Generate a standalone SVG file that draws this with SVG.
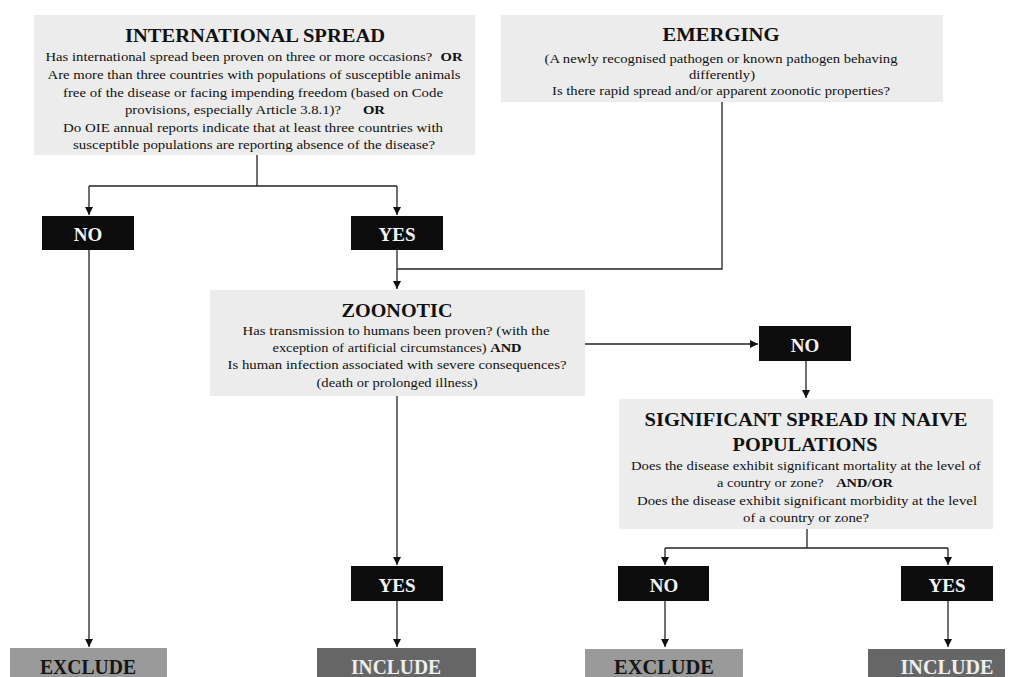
<svg xmlns="http://www.w3.org/2000/svg" width="1013" height="677" viewBox="0 0 1013 677">
<style>
.box{fill:#ececec}
.lbl{fill:#0c0c0c}
.exc{fill:#9a9a9a}
.inc{fill:#666666}
text{font-family:"Liberation Serif","Times New Roman",serif;text-anchor:middle}
.t{font-size:19px;font-weight:bold;fill:#111}
.b{font-size:13px;fill:#111}
.bb{font-weight:bold}
.lt{font-size:19px;font-weight:bold;fill:#f4f4f4}
.et{font-size:21px;font-weight:bold;fill:#151515}
.it{font-size:21px;font-weight:bold;fill:#eeeeee}
.c{fill:none;stroke:#222;stroke-width:1.3}
</style>
<defs>
<marker id="ah" markerUnits="userSpaceOnUse" markerWidth="9" markerHeight="9" refX="8" refY="4" orient="auto">
<path d="M0,0 L8,4 L0,8 z" fill="#111"/>
</marker>
</defs>
<rect width="1013" height="677" fill="#ffffff"/>

<g id="connectors">
<path class="c" d="M257,155 V186"/>
<path class="c" d="M89,186 H397"/>
<path class="c" d="M89,186 V215" marker-end="url(#ah)"/>
<path class="c" d="M397,186 V215" marker-end="url(#ah)"/>
<path class="c" d="M89,250 V647" marker-end="url(#ah)"/>
<path class="c" d="M397,250 V289" marker-end="url(#ah)"/>
<path class="c" d="M722,102 V269 H397"/>
<path class="c" d="M585,344 H758" marker-end="url(#ah)"/>
<path class="c" d="M806,361 V398" marker-end="url(#ah)"/>
<path class="c" d="M397,396 V565" marker-end="url(#ah)"/>
<path class="c" d="M397,601 V647" marker-end="url(#ah)"/>
<path class="c" d="M807,529 V548"/>
<path class="c" d="M665,548 H948"/>
<path class="c" d="M665,548 V565" marker-end="url(#ah)"/>
<path class="c" d="M948,548 V565" marker-end="url(#ah)"/>
<path class="c" d="M665,601 V647" marker-end="url(#ah)"/>
<path class="c" d="M948,601 V647" marker-end="url(#ah)"/>
</g>

<g id="international">
<rect class="box" x="34" y="15" width="441" height="140"/>
<text class="t" x="255" y="42" textLength="260" lengthAdjust="spacingAndGlyphs">INTERNATIONAL SPREAD</text>
<text class="b" x="254" y="61" textLength="417" lengthAdjust="spacingAndGlyphs">Has international spread been proven on three or more occasions? <tspan class="bb" dx="4">OR</tspan></text>
<text class="b" x="254" y="79" textLength="413" lengthAdjust="spacingAndGlyphs">Are more than three countries with populations of susceptible animals</text>
<text class="b" x="253" y="97" textLength="380" lengthAdjust="spacingAndGlyphs">free of the disease or facing impending freedom (based on Code</text>
<text class="b" x="255" y="114" textLength="260" lengthAdjust="spacingAndGlyphs">provisions, especially Article 3.8.1)? <tspan class="bb" dx="16">OR</tspan></text>
<text class="b" x="253" y="132" textLength="380" lengthAdjust="spacingAndGlyphs">Do OIE annual reports indicate that at least three countries with</text>
<text class="b" x="254" y="149" textLength="362" lengthAdjust="spacingAndGlyphs">susceptible populations are reporting absence of the disease?</text>
</g>

<g id="emerging">
<rect class="box" x="501" y="15" width="442" height="87"/>
<text class="t" x="721" y="41" textLength="117" lengthAdjust="spacingAndGlyphs">EMERGING</text>
<text class="b" x="721" y="63" textLength="353" lengthAdjust="spacingAndGlyphs">(A newly recognised pathogen or known pathogen behaving</text>
<text class="b" x="722" y="79" textLength="66" lengthAdjust="spacingAndGlyphs">differently)</text>
<text class="b" x="721" y="95" textLength="338" lengthAdjust="spacingAndGlyphs">Is there rapid spread and/or apparent zoonotic properties?</text>
</g>

<g id="no1">
<rect class="lbl" x="42" y="216" width="92" height="34"/>
<text class="lt" x="88" y="241">NO</text>
</g>
<g id="yes1">
<rect class="lbl" x="351" y="216" width="92" height="34"/>
<text class="lt" x="397" y="241">YES</text>
</g>

<g id="zoonotic">
<rect class="box" x="210" y="290" width="375" height="106"/>
<text class="t" x="397" y="317" textLength="111" lengthAdjust="spacingAndGlyphs">ZOONOTIC</text>
<text class="b" x="396" y="335" textLength="307" lengthAdjust="spacingAndGlyphs">Has transmission to humans been proven? (with the</text>
<text class="b" x="397" y="352" textLength="249" lengthAdjust="spacingAndGlyphs">exception of artificial circumstances) <tspan class="bb">AND</tspan></text>
<text class="b" x="397" y="369" textLength="339" lengthAdjust="spacingAndGlyphs">Is human infection associated with severe consequences?</text>
<text class="b" x="397" y="387" textLength="161" lengthAdjust="spacingAndGlyphs">(death or prolonged illness)</text>
</g>

<g id="no2">
<rect class="lbl" x="759" y="326" width="92" height="35"/>
<text class="lt" x="805" y="352">NO</text>
</g>

<g id="significant">
<rect class="box" x="619" y="399" width="374" height="130"/>
<text class="t" x="806" y="426" textLength="323" lengthAdjust="spacingAndGlyphs">SIGNIFICANT SPREAD IN NAIVE</text>
<text class="t" x="805" y="451" textLength="145" lengthAdjust="spacingAndGlyphs">POPULATIONS</text>
<text class="b" x="806" y="470" textLength="350" lengthAdjust="spacingAndGlyphs">Does the disease exhibit significant mortality at the level of</text>
<text class="b" x="805" y="487" textLength="176" lengthAdjust="spacingAndGlyphs">a country or zone? <tspan class="bb" dx="8">AND/OR</tspan></text>
<text class="b" x="807" y="505" textLength="340" lengthAdjust="spacingAndGlyphs">Does the disease exhibit significant morbidity at the level</text>
<text class="b" x="806" y="522" textLength="126" lengthAdjust="spacingAndGlyphs">of a country or zone?</text>
</g>

<g id="yes2">
<rect class="lbl" x="351" y="566" width="92" height="35"/>
<text class="lt" x="397" y="592">YES</text>
</g>
<g id="no3">
<rect class="lbl" x="618" y="566" width="91" height="35"/>
<text class="lt" x="664" y="592">NO</text>
</g>
<g id="yes3">
<rect class="lbl" x="901" y="566" width="92" height="35"/>
<text class="lt" x="947" y="592">YES</text>
</g>

<g id="exclude1">
<rect class="exc" x="10" y="648" width="157" height="29"/>
<text class="et" x="88" y="674" textLength="96" lengthAdjust="spacingAndGlyphs">EXCLUDE</text>
</g>
<g id="include1">
<rect class="inc" x="317" y="648" width="159" height="29"/>
<text class="it" x="396" y="674" textLength="90" lengthAdjust="spacingAndGlyphs">INCLUDE</text>
</g>
<g id="exclude2">
<rect class="exc" x="585" y="649" width="158" height="28"/>
<text class="et" x="664" y="674" textLength="100" lengthAdjust="spacingAndGlyphs">EXCLUDE</text>
</g>
<g id="include2">
<rect class="inc" x="868" y="649" width="137" height="28"/>
<text class="it" x="947" y="674" textLength="93" lengthAdjust="spacingAndGlyphs">INCLUDE</text>
</g>
</svg>
